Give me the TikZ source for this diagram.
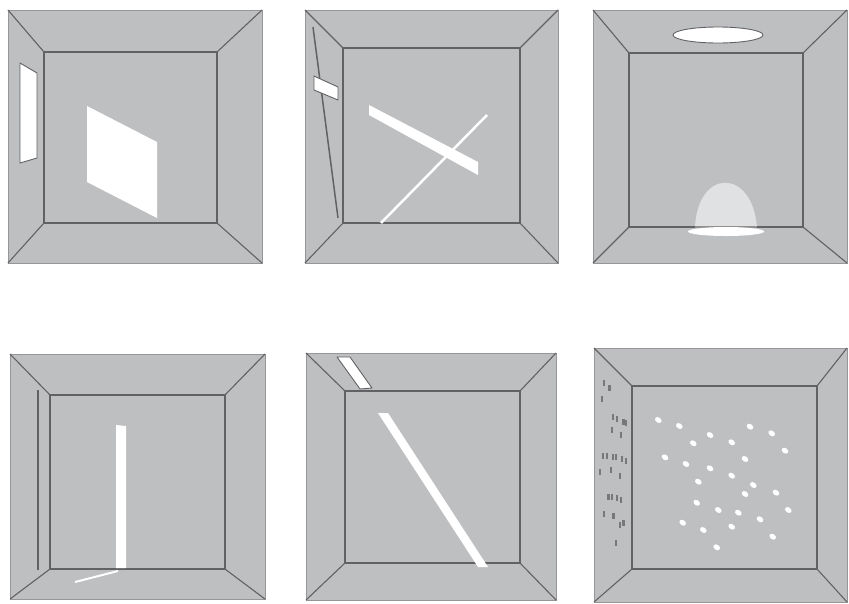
\documentclass[tikz,border=0pt]{standalone}
\definecolor{wallgray}{RGB}{190,191,193}
\definecolor{linedark}{RGB}{98,98,100}
\definecolor{edgegray}{RGB}{150,150,152}
\definecolor{domegray}{RGB}{224,225,226}
\definecolor{markgray}{RGB}{120,120,122}
\tikzset{
  edge/.style={draw=edgegray,line width=1pt},
  diag/.style={draw=linedark,line width=1.1pt},
  innerline/.style={draw=linedark,line width=1.6pt},
  lightpatch/.style={fill=white},
  opening/.style={fill=white,draw=linedark,line width=0.9pt,line join=round},
  lightdotstyle/.style={fill=white},
  wallmarkstyle/.style={fill=markgray},
}
\newcommand{\roombox}[8]{%
  \fill[wallgray] (#1,#2) rectangle (#3,#4);
  \draw[edge] (#1,#2) rectangle (#3,#4);
  \draw[diag] (#1,#2) -- (#5,#6) (#3,#2) -- (#7,#6) (#1,#4) -- (#5,#8) (#3,#4) -- (#7,#8);
  \draw[innerline] (#5,#6) rectangle (#7,#8);
}
\newcommand{\wallmark}[2]{\fill[wallmarkstyle] (#1-1.2,#2-3) rectangle (#1+1.2,#2+3);}
\newcommand{\lightdot}[2]{\fill[lightdotstyle,rotate around={-35:(#1,#2)}] (#1,#2) ellipse [x radius=3.6, y radius=2.6];}
\begin{document}
\begin{tikzpicture}[x=1pt,y=-1pt]
\useasboundingbox (0,0) rectangle (849,603);
\fill[white] (0,0) rectangle (849,603);
% ---------- panel 1 ----------
\roombox{8}{10}{262}{263}{44}{52}{217}{223}
\filldraw[opening] (20,63) -- (37,73) -- (37,158) -- (20,163) -- cycle;
\fill[lightpatch] (87,106) -- (157,142) -- (157,218) -- (87,182) -- cycle;
% ---------- panel 2 ----------
\roombox{305}{10}{558}{263}{343}{48}{520}{223}
\draw[draw=linedark,line width=1.5pt] (313,27) -- (338,218);
\filldraw[opening] (314,76) -- (338,87) -- (338,100) -- (314,90) -- cycle;
\fill[lightpatch] (369,105) -- (478,162) -- (478,175) -- (369,115) -- cycle;
\draw[white,line width=2.5pt] (487,115) -- (381,223);
% ---------- panel 3 ----------
\roombox{593}{10}{847}{263}{629}{53}{803}{227}
\filldraw[opening] (718,35) ellipse [x radius=45, y radius=8];
\fill[domegray] (695,227) .. controls (698,168) and (752,168) .. (757,227) -- cycle;
\draw[draw=linedark!70,line width=1.6pt] (695,227) -- (757,227);
\fill[white] (726,231.5) ellipse [x radius=38, y radius=4.5];
% ---------- panel 4 ----------
\roombox{10}{354}{265}{599}{50}{395}{225}{569}
\draw[draw=linedark,line width=1.8pt] (38,390) -- (38,570);
\fill[lightpatch] (116,425) -- (126,426) -- (126,568) -- (116,568) -- cycle;
\draw[white,line width=2pt] (75,582) -- (118,571);
% ---------- panel 5 ----------
\roombox{306}{353}{556}{600}{345}{391}{520}{563}
\filldraw[opening] (337,357) -- (350,357) -- (372,388) -- (360,389) -- cycle;
\fill[lightpatch] (378,413) -- (388,413) -- (488,567) -- (478,567) -- cycle;
% ---------- panel 6 ----------
\roombox{594}{348}{847}{602}{632}{386}{817}{569}
\foreach \px/\py in {658.3/420,679.3/426,693.3/443.3,710/435,731.7/442.3,750/426.7,771.7/433.3,785/450.7,
  665/457.3,686/464,710/468.3,731.7/475.7,745/459,698.3/481.7,753.3/485,745/494,776/492.7,788.3/510,
  696.7/502.7,718.3/510,738.3/512.7,760/519.3,682.7/522.7,703.3/530,731.7/526.7,772.7/536.7,716.7/547.3}
  {\lightdot{\px}{\py}}
\foreach \px/\py in {604/383.3,609.3/388.3,601.7/399.3,612.7/416.7,616.7/419.3,623.3/421.7,626/423.3,611.7/430,621/435,
  602.7/456,606.7/456,612.7/457.3,616/457.3,621.7/459.3,626/460.7,600/471.7,610.7/470,620/476,
  608.3/496.7,611.7/496.7,616.7/498.3,620.7/500,604/514,613.3/516,620/525,623.3/523.3,616/543.3}
  {\wallmark{\px}{\py}}
\end{tikzpicture}
\end{document}
